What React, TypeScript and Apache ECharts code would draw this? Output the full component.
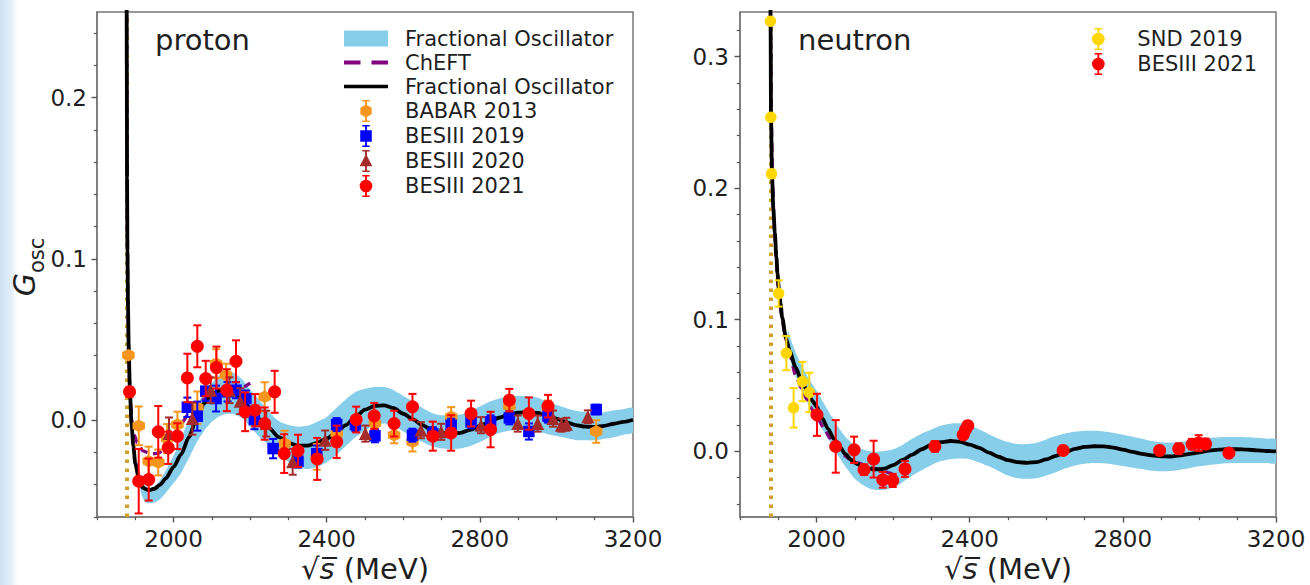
import React, { useEffect, useRef } from 'react';
import * as echarts from 'echarts';

// ---------------- ticks ----------------
const xMajorTicks = [2000, 2400, 2800, 3200];
const xMinorTicks = [1800, 1900, 2100, 2200, 2300, 2500, 2600, 2700, 2900, 3000, 3100];
const yMajorLeft = [0, 0.1, 0.2];
const yMinorLeft = [-0.06, -0.04, -0.02, 0.02, 0.04, 0.06, 0.08, 0.12, 0.14, 0.16, 0.18, 0.22, 0.24];
const yMajorRight = [0, 0.1, 0.2, 0.3];
const yMinorRight = [-0.04, -0.02, 0.02, 0.04, 0.06, 0.08, 0.12, 0.14, 0.16, 0.18, 0.22, 0.24, 0.26, 0.28, 0.32];

const thresholdProton = 1876.5;
const thresholdNeutron = 1879.1;

// ---------------- proton: curves ----------------
const pFoE = [1877.3, 1877.8, 1878.5, 1879.5, 1881, 1883, 1886, 1890, 1895, 1900, 1910, 1920, 1935, 1950, 1965, 1980, 2000, 2020, 2040, 2060, 2080, 2100, 2120, 2140, 2160, 2180, 2200, 2225, 2250, 2275, 2300, 2325, 2350, 2375, 2400, 2425, 2450, 2475, 2500, 2525, 2550, 2575, 2600, 2625, 2650, 2675, 2700, 2725, 2750, 2775, 2800, 2825, 2850, 2875, 2900, 2925, 2950, 2975, 3000, 3025, 3050, 3075, 3100, 3125, 3150, 3175, 3200];
const pFoG = [0.30, 0.22, 0.15, 0.105, 0.07, 0.042, 0.018, -0.002, -0.016, -0.027, -0.037, -0.042, -0.0435, -0.0425, -0.040, -0.036, -0.029, -0.021, -0.0105, 0.001, 0.0105, 0.016, 0.0185, 0.019, 0.0172, 0.013, 0.0075, 0.0005, -0.005, -0.0105, -0.014, -0.0158, -0.0158, -0.014, -0.0115, -0.0075, -0.003, 0.002, 0.0065, 0.0088, 0.0092, 0.0075, 0.004, 0.0005, -0.003, -0.0062, -0.0078, -0.0082, -0.0078, -0.006, -0.0035, -0.001, 0.0015, 0.0035, 0.0047, 0.005, 0.0045, 0.003, 0.001, -0.0012, -0.003, -0.004, -0.0042, -0.0035, -0.0022, -0.001, 0.0003];

const pBandE = [1905, 1915, 1925, 1935, 1950, 1965, 1980, 2000, 2020, 2040, 2060, 2080, 2100, 2120, 2140, 2160, 2180, 2200, 2225, 2250, 2275, 2300, 2325, 2350, 2375, 2400, 2425, 2450, 2475, 2500, 2525, 2550, 2575, 2600, 2625, 2650, 2675, 2700, 2725, 2750, 2775, 2800, 2825, 2850, 2875, 2900, 2925, 2950, 2975, 3000, 3025, 3050, 3075, 3100, 3125, 3150, 3175, 3200];
const pBandHi = [-0.025, -0.035, -0.040, -0.042, -0.041, -0.037, -0.031, -0.022, -0.011, 0.0, 0.009, 0.0165, 0.023, 0.028, 0.030, 0.029, 0.025, 0.019, 0.012, 0.005, -0.0005, -0.003, -0.004, -0.0035, -0.001, 0.002, 0.0075, 0.013, 0.0175, 0.0195, 0.0205, 0.0205, 0.0185, 0.015, 0.0115, 0.0075, 0.0045, 0.003, 0.003, 0.0035, 0.0055, 0.0085, 0.0115, 0.0135, 0.0145, 0.015, 0.0148, 0.014, 0.0115, 0.0095, 0.0075, 0.0058, 0.005, 0.0045, 0.005, 0.006, 0.0068, 0.0075];
const pBandLo = [-0.030, -0.045, -0.0505, -0.0515, -0.051, -0.049, -0.045, -0.039, -0.0325, -0.0235, -0.014, -0.0065, -0.001, 0.0025, 0.004, 0.0035, 0.001, -0.004, -0.0105, -0.0155, -0.021, -0.026, -0.0295, -0.0302, -0.029, -0.026, -0.0215, -0.016, -0.0105, -0.0065, -0.003, -0.002, -0.0035, -0.007, -0.0105, -0.0135, -0.0162, -0.0175, -0.0178, -0.0175, -0.016, -0.0135, -0.0105, -0.008, -0.0065, -0.006, -0.0062, -0.0068, -0.0085, -0.0098, -0.011, -0.0122, -0.0125, -0.0125, -0.0115, -0.0105, -0.009, -0.0075];

const pChE = [1877.4, 1878, 1879, 1880.5, 1882.5, 1885, 1888, 1892, 1897, 1905, 1920, 1940, 1960, 1975, 1990, 2005, 2020, 2040, 2060, 2080, 2100, 2120, 2140, 2160, 2180, 2200];
const pChG = [0.27, 0.19, 0.125, 0.08, 0.048, 0.025, 0.01, -0.002, -0.009, -0.014, -0.019, -0.021, -0.0205, -0.018, -0.0125, -0.007, -0.002, 0.004, 0.009, 0.013, 0.016, 0.018, 0.019, 0.0195, 0.0205, 0.023];

// ---------------- proton: data ----------------
const babarE = [1882, 1909, 1935, 1960, 1983, 2010, 2062, 2111, 2137, 2238, 2290, 2374, 2426, 2526, 2576, 2624, 2725, 2877, 2978, 3104];
const babarG = [0.0403, -0.0035, -0.0254, -0.0262, -0.0114, -0.0027, 0.0078, 0.035, 0.028, 0.0145, -0.0145, -0.0227, -0.0083, -0.002, -0.0093, -0.0134, 0.0021, 0.0087, 0.0062, -0.007];
const babarErr = [0.002, 0.012, 0.009, 0.008, 0.009, 0.008, 0.01, 0.009, 0.007, 0.009, 0.008, 0.008, 0.008, 0.006, 0.005, 0.006, 0.006, 0.006, 0.006, 0.007];

const bes19E = [2036, 2062, 2084, 2111, 2141, 2163, 2189, 2211, 2260, 2325, 2374, 2426, 2475, 2526, 2624, 2677, 2725, 2777, 2828, 2877, 2928, 2978, 3104];
const bes19G = [0.008, 0.0025, 0.018, 0.0134, 0.0176, 0.0186, 0.0134, 0.0004, -0.0176, -0.0254, -0.0207, -0.0027, -0.0027, -0.0097, -0.0093, -0.0083, -0.0031, -0.001, -0.001, 0.0014, -0.007, 0.0025, 0.0066];
const bes19Err = [0.006, 0.009, 0.006, 0.008, 0.006, 0.005, 0.005, 0.006, 0.006, 0.004, 0.005, 0.004, 0.004, 0.004, 0.004, 0.004, 0.004, 0.004, 0.004, 0.004, 0.005, 0.004, 0.003];

const bes20E = [1988, 2049, 2097, 2146, 2174, 2242, 2311, 2396, 2501, 2646, 2699, 2803, 2899, 2951, 2991, 3013, 3026, 3082];
const bes20G = [-0.0083, 0.001, 0.0186, 0.0186, 0.0118, -0.0021, -0.0258, -0.0124, -0.0083, -0.0062, -0.0072, -0.0031, -0.0021, -0.0021, 0.001, -0.0031, -0.0025, 0.0021];
const bes20Err = [0.01, 0.01, 0.008, 0.008, 0.008, 0.008, 0.008, 0.006, 0.005, 0.005, 0.005, 0.005, 0.005, 0.005, 0.005, 0.004, 0.004, 0.004];

const bes21pE = [1885, 1909, 1935, 1960, 1986, 2010, 2036, 2062, 2084, 2112, 2139, 2163, 2187, 2213, 2238, 2264, 2289, 2325, 2375, 2426, 2477, 2524, 2576, 2624, 2677, 2725, 2777, 2828, 2877, 2928, 2978];
const bes21pG = [0.0176, -0.0378, -0.0368, -0.0072, -0.0171, -0.0099, 0.0262, 0.0458, 0.0258, 0.0326, 0.0186, 0.0365, 0.0052, 0.0062, -0.0021, 0.0176, -0.0207, -0.019, -0.024, -0.0134, 0.0004, 0.0027, -0.0021, 0.0083, -0.0099, -0.0079, 0.0041, -0.0058, 0.0124, 0.0041, 0.0087];
const bes21pErr = [0.003, 0.02, 0.013, 0.016, 0.01, 0.008, 0.015, 0.013, 0.011, 0.013, 0.013, 0.013, 0.012, 0.01, 0.01, 0.013, 0.012, 0.01, 0.013, 0.01, 0.008, 0.008, 0.008, 0.008, 0.009, 0.011, 0.008, 0.011, 0.007, 0.01, 0.007];

// ---------------- neutron: curves ----------------
const nFoE = [1879.2, 1879.8, 1881, 1883.5, 1887, 1891, 1895, 1898, 1902, 1906, 1910, 1920, 1930, 1945, 1960, 1975, 1990, 2000, 2015, 2030, 2045, 2060, 2075, 2090, 2105, 2120, 2135, 2150, 2165, 2180, 2200, 2225, 2250, 2275, 2300, 2325, 2350, 2375, 2400, 2425, 2450, 2475, 2500, 2525, 2550, 2575, 2600, 2625, 2650, 2675, 2700, 2725, 2750, 2775, 2800, 2825, 2850, 2875, 2900, 2925, 2950, 2975, 3000, 3025, 3050, 3075, 3100, 3125, 3150, 3175, 3200];
const nFoG = [0.37, 0.33, 0.255, 0.211, 0.185, 0.166, 0.148, 0.135, 0.122, 0.112, 0.102, 0.086, 0.076, 0.064, 0.054, 0.046, 0.038, 0.034, 0.025, 0.017, 0.0095, 0.0035, -0.002, -0.0065, -0.0095, -0.0118, -0.013, -0.0137, -0.0137, -0.013, -0.0105, -0.0065, -0.0025, 0.0015, 0.005, 0.007, 0.0078, 0.0072, 0.005, 0.0025, -0.001, -0.0042, -0.0068, -0.0083, -0.0088, -0.0082, -0.0062, -0.0035, -0.0005, 0.0018, 0.0033, 0.0038, 0.0037, 0.0028, 0.0012, -0.0005, -0.002, -0.0032, -0.0039, -0.004, -0.0032, -0.002, -0.0008, 0.0005, 0.0012, 0.0016, 0.0015, 0.0012, 0.0007, 0.0002, -0.0001];

const nBandE = [1925, 1935, 1950, 1965, 1980, 2000, 2020, 2040, 2060, 2080, 2100, 2120, 2140, 2160, 2180, 2200, 2225, 2250, 2275, 2300, 2325, 2350, 2375, 2400, 2425, 2450, 2475, 2500, 2525, 2550, 2575, 2600, 2625, 2650, 2675, 2700, 2725, 2750, 2775, 2800, 2825, 2850, 2875, 2900, 2925, 2950, 2975, 3000, 3025, 3050, 3075, 3100, 3125, 3150, 3175, 3200];
const nBandHi = [0.092, 0.083, 0.072, 0.063, 0.055, 0.046, 0.036, 0.026, 0.017, 0.0095, 0.0045, 0.0015, 0.0, -0.0003, 0.0003, 0.0015, 0.005, 0.0095, 0.0135, 0.0165, 0.0195, 0.021, 0.0212, 0.0195, 0.0165, 0.013, 0.0095, 0.007, 0.0055, 0.0055, 0.0065, 0.009, 0.0115, 0.0135, 0.0148, 0.0155, 0.0155, 0.015, 0.014, 0.0125, 0.011, 0.0095, 0.0078, 0.0068, 0.0066, 0.0072, 0.0082, 0.0092, 0.01, 0.0106, 0.0108, 0.0108, 0.0106, 0.0102, 0.0096, 0.009];
const nBandLo = [0.075, 0.066, 0.054, 0.044, 0.035, 0.024, 0.0145, 0.005, -0.005, -0.0135, -0.021, -0.0255, -0.0285, -0.0295, -0.029, -0.0275, -0.0235, -0.0185, -0.0145, -0.0105, -0.0075, -0.006, -0.0055, -0.006, -0.0085, -0.0115, -0.015, -0.0185, -0.0205, -0.021, -0.0205, -0.0185, -0.016, -0.013, -0.0108, -0.0095, -0.009, -0.0092, -0.01, -0.0112, -0.0125, -0.0135, -0.0148, -0.0152, -0.015, -0.014, -0.0127, -0.0115, -0.0105, -0.0097, -0.0092, -0.009, -0.009, -0.009, -0.009, -0.009];

const nChE = [1879.3, 1880, 1882, 1885, 1889, 1894, 1900, 1908, 1918, 1930, 1945, 1960, 1975, 1990, 2005, 2020, 2035, 2050, 2070, 2090, 2110, 2130, 2150, 2170, 2190, 2205];
const nChG = [0.36, 0.31, 0.25, 0.205, 0.175, 0.148, 0.124, 0.104, 0.087, 0.073, 0.058, 0.048, 0.039, 0.031, 0.024, 0.017, 0.01, 0.002, -0.003, -0.0065, -0.009, -0.011, -0.013, -0.0145, -0.0165, -0.019];

// ---------------- neutron: data ----------------
const sndE = [1879.5, 1880.5, 1882.5, 1901, 1921, 1940, 1963, 1981];
const sndG = [0.327, 0.254, 0.211, 0.12, 0.0746, 0.033, 0.053, 0.0447];
const sndErr = [0.002, 0.002, 0.003, 0.01, 0.013, 0.015, 0.015, 0.015];

const bes21nE = [2001, 2050, 2098, 2124, 2149, 2173, 2199, 2231, 2309, 2383, 2389, 2395, 2644, 2896, 2946, 2981, 2998, 3016, 3077];
const bes21nG = [0.0277, 0.0037, 0.0011, -0.014, -0.006, -0.0217, -0.0222, -0.0135, 0.0037, 0.0125, 0.0163, 0.0194, 0.0006, 0.0006, 0.0019, 0.0054, 0.0062, 0.0056, -0.0014];
const bes21nErr = [0.016, 0.02, 0.01, 0.004, 0.014, 0.006, 0.005, 0.006, 0.004, 0.003, 0.003, 0.003, 0.002, 0.002, 0.004, 0.004, 0.006, 0.004, 0.002];

// ---------------- styles ----------------
const FONT = 'DejaVu Sans';
const TXT = '#1f1f1f';
const FRAME = '#777777';
const TICK = '#555555';
const BAND = '#87CEEB';
const PURPLE = '#800080';
const ORANGE = '#F7961E';
const BLUE = '#0000FF';
const BROWN = '#A52A2A';
const RED = '#FF0000';
const GOLD = '#FFD700';
const DOT = '#CFA12A';

const hexPath = 'path://M0,-6.5L5.63,-3.25L5.63,3.25L0,6.5L-5.63,3.25L-5.63,-3.25Z';
const barPath = 'M-1,-11L1,-11L1,11L-1,11Z M-4,-11.8L4,-11.8L4,-10.2L-4,-10.2Z M-4,10.2L4,10.2L4,11.8L-4,11.8Z';
const iconCircle = 'path://' + barPath + ' M-6.8,0A6.8,6.8 0 1,1 6.8,0A6.8,6.8 0 1,1 -6.8,0Z';
const iconHex = 'path://' + barPath + ' M0,-7L6.1,-3.5L6.1,3.5L0,7L-6.1,3.5L-6.1,-3.5Z';
const iconSquare = 'path://' + barPath + ' M-6.2,-6.2L6.2,-6.2L6.2,6.2L-6.2,6.2Z';
const iconTri = 'path://' + barPath + ' M0,-7.5L6.8,5.5L-6.8,5.5Z';

function zip(xs: number[], ys: number[]) {
  return xs.map((x, i) => [x, ys[i]]);
}

function errRender(color: string) {
  return (params: any, api: any) => {
    const x = api.value(0);
    const lo = api.value(1);
    const hi = api.value(2);
    const top = api.coord([x, hi]);
    const bot = api.coord([x, lo]);
    const c = 4;
    const style = { stroke: color, lineWidth: 2 };
    return {
      type: 'group',
      children: [
        { type: 'line', shape: { x1: top[0], y1: top[1], x2: bot[0], y2: bot[1] }, style },
        { type: 'line', shape: { x1: top[0] - c, y1: top[1], x2: top[0] + c, y2: top[1] }, style },
        { type: 'line', shape: { x1: bot[0] - c, y1: bot[1], x2: bot[0] + c, y2: bot[1] }, style },
      ],
    };
  };
}

function dataset(name: string, gi: number, E: number[], G: number[], err: number[], color: string, symbol: string, size: number, z: number) {
  return [
    {
      type: 'custom',
      name: name + ' err',
      xAxisIndex: gi * 2,
      yAxisIndex: gi * 2,
      data: E.map((e, i) => [e, G[i] - err[i], G[i] + err[i]]),
      encode: { x: 0, y: [1, 2] },
      renderItem: errRender(color),
      clip: true,
      silent: true,
      z,
    },
    {
      type: 'scatter',
      name,
      xAxisIndex: gi * 2,
      yAxisIndex: gi * 2,
      data: zip(E, G),
      symbol,
      symbolSize: size,
      itemStyle: { color, opacity: 1 },
      clip: true,
      silent: true,
      z,
    },
  ];
}

// uncertainty band drawn as one polygon through the axes' scales
function band(name: string, gi: number, E: number[], lo: number[], hi: number[]) {
  return {
    type: 'custom',
    name,
    xAxisIndex: gi * 2,
    yAxisIndex: gi * 2,
    data: E.map((e, i) => [e, lo[i], hi[i]]),
    encode: { x: 0, y: [1, 2] },
    itemStyle: { color: BAND },
    clip: true,
    silent: true,
    z: 1,
    renderItem: (params: any, api: any) => {
      if (params.dataIndex !== 0) return { type: 'group', children: [] };
      const upper = E.map((e, i) => api.coord([e, hi[i]]));
      const lower = E.map((e, i) => api.coord([e, lo[i]])).reverse();
      return {
        type: 'polygon',
        shape: { points: upper.concat(lower), smooth: 0.25 },
        style: { fill: BAND, stroke: 'none' },
      };
    },
  };
}

function curve(name: string, gi: number, E: number[], G: number[], color: string, width: number, type: any, z: number, threshold?: number) {
  const s: any = {
    type: 'line',
    name,
    xAxisIndex: gi * 2,
    yAxisIndex: gi * 2,
    data: zip(E, G),
    showSymbol: false,
    smooth: 0.25,
    smoothMonotone: 'x',
    clip: true,
    lineStyle: { color, width, type, cap: 'butt' },
    itemStyle: { color },
    silent: true,
    z,
  };
  if (threshold !== undefined) {
    s.markLine = {
      silent: true,
      symbol: 'none',
      label: { show: false },
      lineStyle: { color: DOT, width: 4, type: [3.5, 5.5], cap: 'butt', opacity: 1 },
      data: [{ xAxis: threshold }],
      z: 1,
    };
  }
  return s;
}

function xAxes(gi: number) {
  const name = '{r|√}{s|s\u0305}{m| (MeV)}';
  return [
    {
      type: 'value',
      gridIndex: gi,
      position: 'bottom',
      min: 1800,
      max: 3200,
      splitLine: { show: false },
      axisLine: { show: true, onZero: false, lineStyle: { color: FRAME, width: 1.5 } },
      axisTick: { show: true, customValues: xMajorTicks, length: 5.5, lineStyle: { color: TICK, width: 1.4 } },
      axisLabel: {
        customValues: xMajorTicks,
        fontSize: 23,
        fontFamily: FONT,
        color: TXT,
        margin: 10,
        formatter: (v: number) => String(v),
      },
      name,
      nameLocation: 'middle',
      nameGap: 37,
      nameTextStyle: {
        fontSize: 29,
        fontFamily: FONT,
        color: TXT,
        rich: {
          r: { fontSize: 29, fontFamily: FONT, color: TXT },
          s: { fontSize: 29, fontFamily: FONT, color: TXT, fontStyle: 'italic' },
          m: { fontSize: 29, fontFamily: FONT, color: TXT },
        },
      },
    },
    {
      type: 'value',
      gridIndex: gi,
      position: 'bottom',
      min: 1800,
      max: 3200,
      splitLine: { show: false },
      axisLine: { show: false, onZero: false },
      axisTick: { show: true, customValues: xMinorTicks, length: 3.2, lineStyle: { color: TICK, width: 1.2 } },
      axisLabel: { show: false },
    },
  ];
}

function yAxes(gi: number, min: number, max: number, major: number[], minor: number[], margin: number) {
  return [
    {
      type: 'value',
      gridIndex: gi,
      position: 'left',
      min,
      max,
      splitLine: { show: false },
      axisLine: { show: true, onZero: false, lineStyle: { color: FRAME, width: 1.5 } },
      axisTick: { show: true, customValues: major, length: 5.5, lineStyle: { color: TICK, width: 1.4 } },
      axisLabel: {
        customValues: major,
        fontSize: 23,
        fontFamily: FONT,
        color: TXT,
        margin,
        formatter: (v: number) => v.toFixed(1),
      },
    },
    {
      type: 'value',
      gridIndex: gi,
      position: 'left',
      min,
      max,
      splitLine: { show: false },
      axisLine: { show: false, onZero: false },
      axisTick: { show: true, customValues: minor, length: 3.2, lineStyle: { color: TICK, width: 1.2 } },
      axisLabel: { show: false },
    },
  ];
}

function legendItem(name: string, icon: string, color: string) {
  return { name, icon, itemStyle: { color, borderWidth: 0, opacity: 1 } };
}

const legendText = { fontSize: 21, fontFamily: FONT, color: TXT, padding: [0, 0, 0, 12] };

export default function App() {
  const ref = useRef<HTMLDivElement>(null);
  useEffect(() => {
    if (!ref.current) return;
    const chart = echarts.init(ref.current, null, { renderer: 'svg' });
    const option: any = {
      animation: false,
      backgroundColor: '#ffffff',
      grid: [
        { left: 97, top: 12, width: 536, height: 505, show: true, borderColor: FRAME, borderWidth: 1.5, backgroundColor: 'transparent', containLabel: false, outerBoundsMode: 'none' },
        { left: 740, top: 12, width: 536, height: 505, show: true, borderColor: FRAME, borderWidth: 1.5, backgroundColor: 'transparent', containLabel: false, outerBoundsMode: 'none' },
      ],
      xAxis: [...xAxes(0), ...xAxes(1)],
      yAxis: [
        ...yAxes(0, -0.06, 0.253, yMajorLeft, yMinorLeft, 10),
        ...yAxes(1, -0.05, 0.334, yMajorRight, yMinorRight, 11),
      ],
      title: [
        { text: 'proton', left: 155, top: 25, padding: 0, textStyle: { fontSize: 29, fontWeight: 'normal', fontFamily: FONT, color: TXT } },
        { text: 'neutron', left: 798, top: 25, padding: 0, textStyle: { fontSize: 29, fontWeight: 'normal', fontFamily: FONT, color: TXT } },
      ],
      legend: [
        {
          left: 344,
          top: 28,
          orient: 'vertical',
          itemWidth: 44,
          itemHeight: 22,
          itemGap: 3,
          padding: 0,
          selectedMode: false,
          textStyle: legendText,
          data: [
            legendItem('Fractional Oscillator', 'path://M0,0L44,0L44,16L0,16Z', BAND),
            legendItem('ChEFT', 'path://M0,0L15,0L15,3.5L0,3.5Z M25,0L40,0L40,3.5L25,3.5Z', PURPLE),
            legendItem('Fractional Oscillator ', 'path://M0,0L46,0L46,3.6L0,3.6Z', '#000000'),
            legendItem('BABAR 2013', iconHex, ORANGE),
            legendItem('BESIII 2019', iconSquare, BLUE),
            legendItem('BESIII 2020', iconTri, BROWN),
            legendItem('BESIII 2021', iconCircle, RED),
          ],
        },
        {
          left: 1092,
          top: 28,
          orient: 'vertical',
          itemWidth: 44,
          itemHeight: 22,
          itemGap: 3,
          padding: 0,
          selectedMode: false,
          textStyle: legendText,
          data: [
            legendItem('SND 2019', iconCircle, GOLD),
            legendItem('BESIII 2021', iconCircle, RED),
          ],
        },
      ],
      graphic: [
        {
          type: 'rect',
          shape: { x: 0, y: 0, width: 20, height: 585 },
          style: {
            fill: {
              type: 'linear', x: 0, y: 0, x2: 1, y2: 0,
              colorStops: [
                { offset: 0, color: '#cde2f5' },
                { offset: 0.6, color: '#e4f0fa' },
                { offset: 1, color: 'rgba(255,255,255,0)' },
              ],
            },
          },
          z: -10,
          silent: true,
        },
        {
          type: 'text',
          x: 30,
          y: 267,
          rotation: Math.PI / 2,
          silent: true,
          style: {
            text: '{g|G}{s|osc}',
            align: 'center',
            verticalAlign: 'middle',
            rich: {
              g: { fontSize: 30, fontStyle: 'italic', fontFamily: FONT, fill: TXT, lineHeight: 34, verticalAlign: 'bottom', padding: [0, 0, 8, 0] },
              s: { fontSize: 21, fontFamily: FONT, fill: TXT, lineHeight: 26, verticalAlign: 'bottom' },
            },
          },
        },
      ],
      series: [
        // proton
        band('Fractional Oscillator', 0, pBandE, pBandLo, pBandHi),
        curve('ChEFT', 0, pChE, pChG, PURPLE, 3.2, [9, 6], 2, thresholdProton),
        curve('Fractional Oscillator ', 0, pFoE, pFoG, '#000000', 3.8, 'solid', 3),
        ...dataset('BABAR 2013', 0, babarE, babarG, babarErr, ORANGE, hexPath, 12.5, 10),
        ...dataset('BESIII 2019', 0, bes19E, bes19G, bes19Err, BLUE, 'rect', 11.5, 11),
        ...dataset('BESIII 2020', 0, bes20E, bes20G, bes20Err, BROWN, 'triangle', 13, 12),
        ...dataset('BESIII 2021', 0, bes21pE, bes21pG, bes21pErr, RED, 'circle', 13, 13),
        // neutron
        band('Fractional Oscillator', 1, nBandE, nBandLo, nBandHi),
        curve('ChEFT', 1, nChE, nChG, PURPLE, 3.2, [9, 6], 2, thresholdNeutron),
        curve('Fractional Oscillator ', 1, nFoE, nFoG, '#000000', 3.8, 'solid', 3),
        ...dataset('SND 2019', 1, sndE, sndG, sndErr, GOLD, 'circle', 11.5, 10),
        ...dataset('BESIII 2021', 1, bes21nE, bes21nG, bes21nErr, RED, 'circle', 13, 13),
      ],
    };
    chart.setOption(option);
    return () => chart.dispose();
  }, []);
  return (
    <div
      ref={ref}
      style={{ position: 'absolute', left: 0, top: 0, width: 1310, height: 585, background: '#fff' }}
    />
  );
}
